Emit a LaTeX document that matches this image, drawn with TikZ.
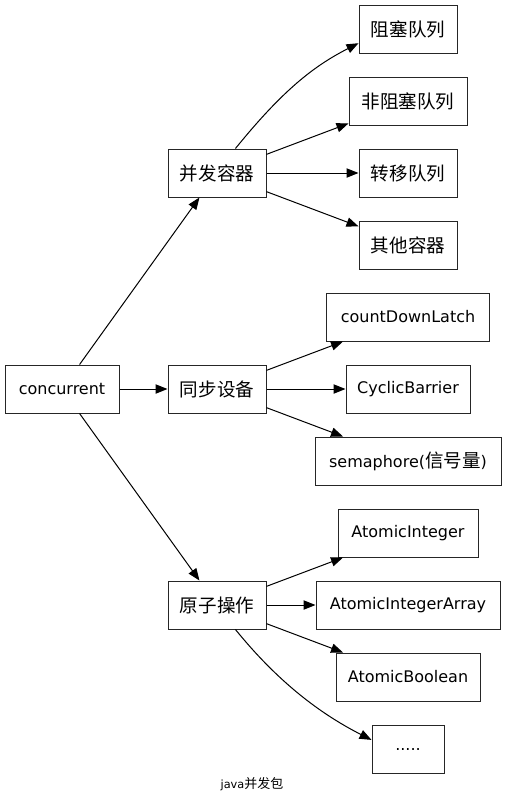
\documentclass[tikz,border=0pt]{standalone}
\usepackage{fontspec}
\setmainfont{DejaVu Sans}
\newfontfamily\cjkfont{Noto Sans CJK SC}
\usetikzlibrary{arrows.meta}
\newcommand{\zh}[1]{{\cjkfont\fontsize{13.9pt}{16pt}\selectfont #1}}
\newcommand{\zhs}[1]{{\cjkfont\fontsize{9.75pt}{11pt}\selectfont #1}}
\tikzset{
  box/.style={draw=black!85, line width=0.75pt, minimum height=36pt, inner sep=0pt,
    font=\fontsize{12pt}{14pt}\selectfont},
  arr/.style={draw=black, line width=0.75pt, -{Triangle[length=9pt,width=7pt]}},
  captext/.style={inner sep=0pt, font=\fontsize{8.5pt}{10pt}\selectfont}
}
\begin{document}
\begin{tikzpicture}[x=0.75pt,y=-0.75pt]
\useasboundingbox (0,0) rectangle (507,804);
% left
\node[box, minimum width=85.5pt] (conc) at (62,389) {concurrent};
% middle
\node[box, minimum width=73.5pt] (bf) at (217,173) {\zh{并发容器}};
\node[box, minimum width=73.5pt] (tb) at (217,389) {\zh{同步设备}};
\node[box, minimum width=73.5pt] (yz) at (217,605) {\zh{原子操作}};
% right: containers
\node[box, minimum width=73.5pt] (zs) at (408,29) {\zh{阻塞队列}};
\node[box, minimum width=88.5pt] (fz) at (408,101) {\zh{非阻塞队列}};
\node[box, minimum width=73.5pt] (zy) at (408,173) {\zh{转移队列}};
\node[box, minimum width=73.5pt] (qt) at (408,245) {\zh{其他容器}};
% right: sync
\node[box, minimum width=122.25pt] (cd) at (408,317) {countDownLatch};
\node[box, minimum width=93pt] (cb) at (408,389) {CyclicBarrier};
\node[box, minimum width=139.5pt] (sem) at (408,461) {semaphore(\zh{信号量})};
% right: atomic
\node[box, minimum width=105pt] (ai) at (408,533) {AtomicInteger};
\node[box, minimum width=138pt] (aia) at (408,605) {AtomicIntegerArray};
\node[box, minimum width=108pt] (ab) at (408,677) {AtomicBoolean};
\node[box, minimum width=54pt] (dots) at (408,749) {.....};
% caption
\node[captext] (title) at (252,784) {java\zhs{并发包}};
% edges
\draw[arr] (conc) -- (bf);
\draw[arr] (conc) -- (tb);
\draw[arr] (conc) -- (yz);
\draw[arr] (bf.53) .. controls +(47,-58) and +(-45,23) .. (zs.196);
\draw[arr] (bf) -- (fz);
\draw[arr] (bf) -- (zy);
\draw[arr] (bf) -- (qt);
\draw[arr] (tb) -- (cd);
\draw[arr] (tb) -- (cb);
\draw[arr] (tb) -- (sem);
\draw[arr] (yz) -- (ai);
\draw[arr] (yz) -- (aia);
\draw[arr] (yz) -- (ab);
\draw[arr] (yz.-53) .. controls +(47,58) and +(-45,-23) .. (dots.166);
\end{tikzpicture}
\end{document}
